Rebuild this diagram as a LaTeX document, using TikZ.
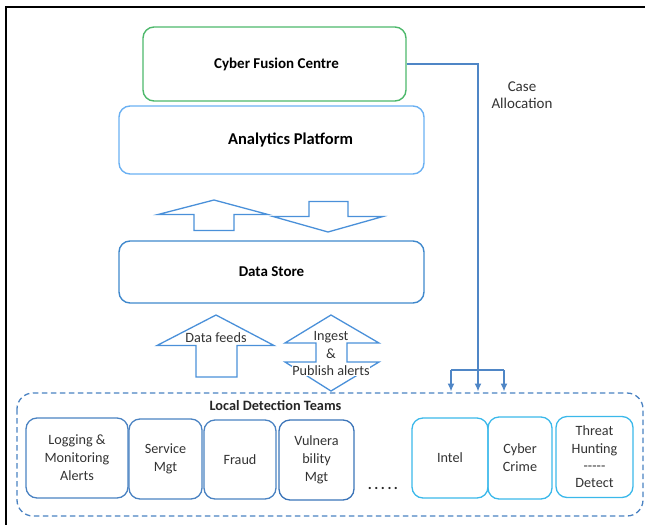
\documentclass[tikz,border=0pt]{standalone}
\usepackage{fontspec}
\setmainfont{Carlito}
\usetikzlibrary{arrows.meta}
\definecolor{cfcgreen}{HTML}{4DB86B}
\definecolor{aplblue}{HTML}{6AB0F2}
\definecolor{dsblue}{HTML}{3F88CC}
\definecolor{arrblue}{HTML}{4A90D9}
\definecolor{teamblue}{HTML}{4A82C2}
\definecolor{vulnblue}{HTML}{3B74B8}
\definecolor{cyanb}{HTML}{3BB8EA}
\definecolor{conblue}{HTML}{4F86C6}
\tikzset{
  bigbox/.style={draw, rounded corners=11pt, line width=1.4pt, inner sep=0pt, font=\bfseries\fontsize{15}{18}\selectfont},
  team/.style={draw, rounded corners=11pt, line width=1.3pt, inner sep=0pt, align=center, font=\fontsize{14.2}{18}\selectfont, text=black!80},
  hollowarrow/.style={draw=arrblue, line width=1.3pt, line join=miter},
  lbl/.style={font=\fontsize{14.2}{17}\selectfont, text=black!80, align=center, inner sep=0pt},
  conn/.style={draw=conblue, line width=1.4pt},
  tip/.style={-{Latex[length=8pt,width=7pt]}}
}
\begin{document}
\begin{tikzpicture}[x=1pt,y=-1pt]
\useasboundingbox (0,0) rectangle (645,525);
% frame
\draw[line width=2pt] (5,7) -- (645,7);
\draw[line width=2pt] (6,7) -- (6,525);

% main boxes
\node[bigbox, draw=cfcgreen, minimum width=263pt, minimum height=74pt] (cfc) at (274.5,64) {\hspace*{4pt}Cyber Fusion Centre};
\node[bigbox, draw=aplblue, minimum width=305pt, minimum height=68pt, font=\bfseries\fontsize{16.5}{19}\selectfont] (apl) at (271.5,140) {\hspace*{38pt}Analytics Platform};
\node[bigbox, draw=dsblue, minimum width=305pt, minimum height=62pt] (ds) at (271.5,272) {Data Store};

% up / down arrows between platform and store
\draw[hollowarrow] (214,200) -- (268,214.5) -- (234,214.5) -- (234,230.5) -- (194,230.5) -- (194,214.5) -- (158,214.5) -- cycle;
\draw[hollowarrow] (309,201.5) -- (348,201.5) -- (348,216.5) -- (383,216.5) -- (328,232) -- (273,216.5) -- (309,216.5) -- cycle;

% data feeds arrow
\draw[hollowarrow] (216,315) -- (274,345.5) -- (237,345.5) -- (237,377) -- (196,377) -- (196,345.5) -- (157,345.5) -- cycle;
\node[lbl] (df) at (216,337.5) {Data feeds};

% ingest double arrow
\draw[hollowarrow] (331,315) -- (379,343) -- (347,343) -- (347,362) -- (379,362) -- (331,391) -- (285,362) -- (316,362) -- (316,343) -- (285,343) -- cycle;
\node[lbl] (ing1) at (331,337) {Ingest};
\node[lbl] (ing2) at (331,354) {\&};
\node[lbl, fill=white, inner sep=0.5pt] (ing3) at (331,371) {Publish alerts};

% local detection teams container
\draw[draw=teamblue, line width=1.3pt, dash pattern=on 5.5pt off 3.5pt, rounded corners=16pt] (17,393) rectangle (643,516);
\node[font=\bfseries\fontsize{14.3}{16}\selectfont, text=black!85, inner sep=0pt] (ldt) at (275.5,406) {Local Detection Teams};

% case allocation connector
\coordinate (turn) at (478,64);
\coordinate (split) at (478,370);
\coordinate (sl) at (451,370);
\coordinate (sr) at (504,370);
\coordinate (t1) at (451,391.5);
\coordinate (t2) at (478,391.5);
\coordinate (t3) at (504,391.5);
\draw[conn] (cfc.east |- turn) -- (turn) -- (split);
\draw[conn] (sl) -- (sr);
\draw[conn, tip] (split) -- (t2);
\draw[conn, tip] (sl) -- (t1);
\draw[conn, tip] (sr) -- (t3);
\node[lbl, font=\fontsize{15}{16.5}\selectfont] (case) at (522,95) {Case\\Allocation};

% team boxes
\node[team, draw=teamblue, minimum width=102pt, minimum height=80pt] (log) at (77,458) {Logging \&\\Monitoring\\Alerts};
\node[team, draw=teamblue, minimum width=73pt, minimum height=80pt] (svc) at (165.5,459) {Service\\Mgt};
\node[team, draw=teamblue, minimum width=72pt, minimum height=79pt] (fraud) at (240,459.5) {Fraud};
\node[team, draw=vulnblue, minimum width=75pt, minimum height=80pt] (vuln) at (316.5,460) {Vulnera\\bility\\Mgt};
\node[lbl, font=\bfseries\fontsize{15}{15}\selectfont, text=black!85] (dots) at (383,488) {.\,.\,.\,.\,.};
\node[team, draw=cyanb, minimum width=76pt, minimum height=80pt] (intel) at (450,458) {Intel};
\node[team, draw=cyanb, minimum width=64pt, minimum height=82pt] (crime) at (520,458) {Cyber\\Crime};
\node[team, draw=cyanb, minimum width=77pt, minimum height=81pt, font=\fontsize{14.2}{17.3}\selectfont] (threat) at (594.5,457) {Threat\\Hunting\\{-}{-}{-}{-}{-}\\Detect};
\end{tikzpicture}
\end{document}
